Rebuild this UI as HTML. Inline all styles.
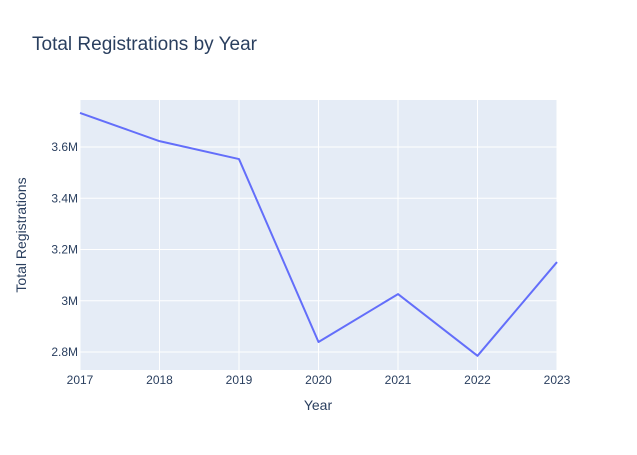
<!DOCTYPE html>
<html><head><meta charset="utf-8"><style>
body{margin:0;background:#fff;font-family:"Liberation Sans",Arial,sans-serif;}
svg text{font-family:"Liberation Sans",Arial,sans-serif;}
</style></head><body>
<svg id="chart" width="637" height="450">
<rect width="637" height="450" fill="#fff"/>
<text x="32" y="50" font-size="19" fill="#2a3f5f">Total Registrations by Year</text>
<rect x="80" y="100" width="477" height="270" fill="#e5ecf6"/>
<g id="grid"></g><g id="ticks"></g><g id="series"></g>
<text x="318" y="410" font-size="14" fill="#2a3f5f" text-anchor="middle">Year</text>
<text transform="translate(26,235) rotate(-90)" font-size="14" fill="#2a3f5f" text-anchor="middle">Total Registrations</text>
</svg>
<script>
const years = [2017, 2018, 2019, 2020, 2021, 2022, 2023];
const registrations = [3.733, 3.623, 3.553, 2.839, 3.026, 2.785, 3.151];
const yTicks = [2.8, 3.0, 3.2, 3.4, 3.6];
const yTickLabels = ["2.8M", "3M", "3.2M", "3.4M", "3.6M"];
const L=80,R=557,T=100,B=370,yMin=2.7297,yMax=3.7836;
const xs=v=>L+(v-years[0])/(years[years.length-1]-years[0])*(R-L);
const ys=v=>B-(v-yMin)/(yMax-yMin)*(B-T);
const NS="http://www.w3.org/2000/svg";
function mk(tag,attrs,parent,txt){const e=document.createElementNS(NS,tag);for(const k in attrs)e.setAttribute(k,attrs[k]);if(txt!=null)e.textContent=txt;document.getElementById(parent).appendChild(e);return e;}
years.forEach(y=>{
 const g=mk('line',{x1:xs(y),x2:xs(y),y1:T,y2:B,stroke:'#fff','stroke-width':1},'grid');
 
 
 const t=mk('text',{x:xs(y),y:B+14,'font-size':12,fill:'#2a3f5f','text-anchor':'middle'},'ticks',String(y));
 
 
});
yTicks.forEach((v,i)=>{
 const g=mk('line',{x1:L,x2:R,y1:ys(v),y2:ys(v),stroke:'#fff','stroke-width':1},'grid');
 
 
 const t=mk('text',{x:L-2,y:ys(v)+4,'font-size':12,fill:'#2a3f5f','text-anchor':'end'},'ticks',yTickLabels[i]);
 
 
});
const pts=years.map((y,i)=>xs(y)+','+ys(registrations[i])).join(' ');
const line=mk('polyline',{points:pts,fill:'none',stroke:'#636efa','stroke-width':2,'stroke-linejoin':'round'},'series');


</script>
</body></html>
